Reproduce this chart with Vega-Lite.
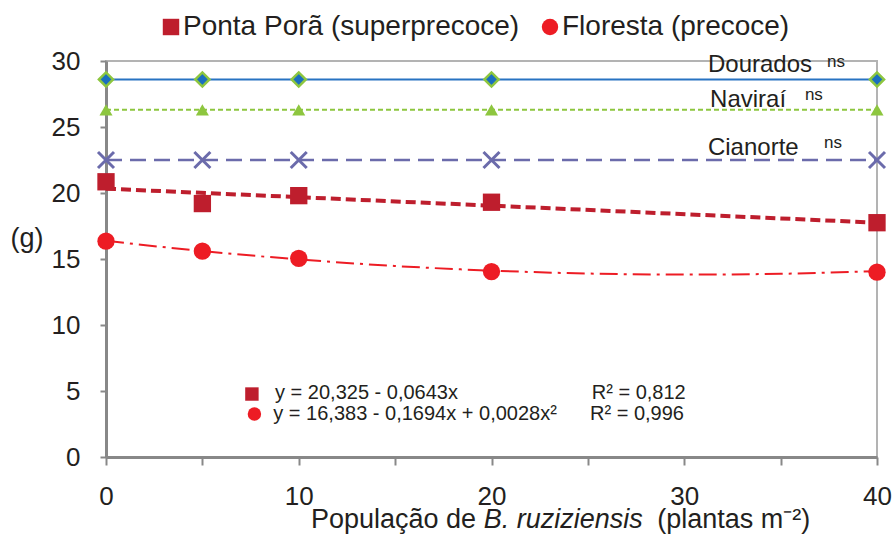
{
  "$schema": "https://vega.github.io/schema/vega-lite/v6.json",
  "width": 771,
  "height": 396,
  "autosize": {"type": "none"},
  "padding": {"left": 106, "top": 61, "right": 15, "bottom": 78},
  "background": "white",
  "config": {
    "view": {"stroke": "#b3b3b3", "strokeWidth": 2},
    "font": "Liberation Sans",
    "text": {"color": "#231f20"}
  },
  "datasets": {
    "pts": [
      {"serie": "Dourados", "x": 0, "y": 28.6},
      {"serie": "Dourados", "x": 5, "y": 28.6},
      {"serie": "Dourados", "x": 10, "y": 28.6},
      {"serie": "Dourados", "x": 20, "y": 28.6},
      {"serie": "Dourados", "x": 40, "y": 28.6},
      {"serie": "Naviraí", "x": 0, "y": 26.3},
      {"serie": "Naviraí", "x": 5, "y": 26.3},
      {"serie": "Naviraí", "x": 10, "y": 26.3},
      {"serie": "Naviraí", "x": 20, "y": 26.3},
      {"serie": "Naviraí", "x": 40, "y": 26.3},
      {"serie": "Cianorte", "x": 0, "y": 22.5},
      {"serie": "Cianorte", "x": 5, "y": 22.5},
      {"serie": "Cianorte", "x": 10, "y": 22.5},
      {"serie": "Cianorte", "x": 20, "y": 22.5},
      {"serie": "Cianorte", "x": 40, "y": 22.5},
      {"serie": "Ponta Porã (superprecoce)", "x": 0, "y": 20.85},
      {"serie": "Ponta Porã (superprecoce)", "x": 5, "y": 19.2},
      {"serie": "Ponta Porã (superprecoce)", "x": 10, "y": 19.8},
      {"serie": "Ponta Porã (superprecoce)", "x": 20, "y": 19.3},
      {"serie": "Ponta Porã (superprecoce)", "x": 40, "y": 17.75},
      {"serie": "Floresta (precoce)", "x": 0, "y": 16.35},
      {"serie": "Floresta (precoce)", "x": 5, "y": 15.6},
      {"serie": "Floresta (precoce)", "x": 10, "y": 15.05},
      {"serie": "Floresta (precoce)", "x": 20, "y": 14.05},
      {"serie": "Floresta (precoce)", "x": 40, "y": 14.0}
    ],
    "fit": [
      {"serie": "Ponta Porã (superprecoce)", "x": 0, "y": 20.33},
      {"serie": "Ponta Porã (superprecoce)", "x": 40, "y": 17.75},
      {"serie": "Floresta (precoce)", "x": 0, "y": 16.38},
      {"serie": "Floresta (precoce)", "x": 5, "y": 15.6},
      {"serie": "Floresta (precoce)", "x": 10, "y": 14.97},
      {"serie": "Floresta (precoce)", "x": 15, "y": 14.47},
      {"serie": "Floresta (precoce)", "x": 20, "y": 14.12},
      {"serie": "Floresta (precoce)", "x": 25, "y": 13.9},
      {"serie": "Floresta (precoce)", "x": 30, "y": 13.82},
      {"serie": "Floresta (precoce)", "x": 35, "y": 13.88},
      {"serie": "Floresta (precoce)", "x": 40, "y": 14.08}
    ],
    "eqmark": [
      {"serie": "Ponta Porã (superprecoce)", "x": 7.57, "y": 4.77},
      {"serie": "Floresta (precoce)", "x": 7.7, "y": 3.26}
    ],
    "ann": [
      {"grupo": "local", "txt": "Dourados", "x": 31.23, "y": 29.17},
      {"grupo": "local", "txt": "Naviraí", "x": 31.34, "y": 26.54},
      {"grupo": "local", "txt": "Cianorte", "x": 31.23, "y": 22.88},
      {"grupo": "ns", "txt": "ns", "x": 37.41, "y": 29.55},
      {"grupo": "ns", "txt": "ns", "x": 36.26, "y": 27.05},
      {"grupo": "ns", "txt": "ns", "x": 37.25, "y": 23.41},
      {"grupo": "eq", "txt": "y = 20,325 - 0,0643x", "x": 8.77, "y": 4.37},
      {"grupo": "eq", "txt": "R² = 0,812", "x": 25.2, "y": 4.37},
      {"grupo": "eq", "txt": "y = 16,383 - 0,1694x + 0,0028x²", "x": 8.68, "y": 2.8},
      {"grupo": "eq", "txt": "R² = 0,996", "x": 25.11, "y": 2.8},
      {"grupo": "t1", "txt": "População de", "x": 19.2, "y": -5.4},
      {"grupo": "t2", "txt": "B. ruziziensis", "x": 19.6, "y": -5.4},
      {"grupo": "t3", "txt": "(plantas  m⁻²)", "x": 28.6, "y": -5.4}
    ]
  },
  "layer": [
    {
      "data": {"name": "pts"},
      "transform": [{"filter": "datum.serie === 'Dourados'"}],
      "mark": {"type": "line", "color": "#2873c2", "strokeWidth": 2},
      "encoding": {
        "x": {
          "field": "x", "type": "quantitative",
          "scale": {"domain": [0, 40], "nice": false, "zero": false},
          "axis": {
            "values": [0, 5, 10, 15, 20, 25, 30, 35, 40],
            "labelExpr": "datum.value % 10 === 0 ? datum.label : ''",
            "title": null, "grid": false,
            "domainColor": "#888888", "domainWidth": 3,
            "tickColor": "#888888", "tickWidth": 2, "tickSize": 8,
            "labelFont": "Liberation Sans", "labelFontSize": 26,
            "labelColor": "#231f20", "labelPadding": 18, "labelFlush": false
          }
        },
        "y": {
          "field": "y", "type": "quantitative",
          "scale": {"domain": [0, 30], "nice": false, "zero": false},
          "axis": {
            "values": [0, 5, 10, 15, 20, 25, 30],
            "title": "(g)", "titleAngle": 0, "titleAlign": "left",
            "titleBaseline": "middle", "titleX": -96, "titleY": 177,
            "titleFont": "Liberation Sans", "titleFontSize": 27,
            "titleFontWeight": "normal", "titleColor": "#231f20",
            "grid": false,
            "domainColor": "#888888", "domainWidth": 3,
            "tickColor": "#888888", "tickWidth": 2, "tickSize": 6,
            "labelFont": "Liberation Sans", "labelFontSize": 26,
            "labelColor": "#231f20", "labelPadding": 20
          }
        }
      }
    },
    {
      "data": {"name": "pts"},
      "transform": [{"filter": "datum.serie === 'Naviraí'"}],
      "mark": {"type": "line", "color": "#8dc63f", "strokeWidth": 2, "strokeDash": [5, 3]},
      "encoding": {"x": {"field": "x", "type": "quantitative"}, "y": {"field": "y", "type": "quantitative"}}
    },
    {
      "data": {"name": "pts"},
      "transform": [{"filter": "datum.serie === 'Cianorte'"}],
      "mark": {"type": "line", "color": "#6b6bab", "strokeWidth": 2.5, "strokeDash": [16, 8]},
      "encoding": {"x": {"field": "x", "type": "quantitative"}, "y": {"field": "y", "type": "quantitative"}}
    },
    {
      "data": {"name": "fit"},
      "transform": [{"filter": "datum.serie === 'Ponta Porã (superprecoce)'"}],
      "mark": {"type": "line", "color": "#be1e2d", "strokeWidth": 4, "strokeDash": [10, 5]},
      "encoding": {"x": {"field": "x", "type": "quantitative"}, "y": {"field": "y", "type": "quantitative"}}
    },
    {
      "data": {"name": "fit"},
      "transform": [{"filter": "datum.serie === 'Floresta (precoce)'"}],
      "mark": {"type": "line", "color": "#ed1c24", "strokeWidth": 2, "strokeDash": [18, 6, 3, 6], "interpolate": "monotone"},
      "encoding": {"x": {"field": "x", "type": "quantitative"}, "y": {"field": "y", "type": "quantitative"}}
    },
    {
      "data": {"name": "pts"},
      "transform": [{"filter": "datum.serie === 'Dourados'"}],
      "mark": {"type": "point", "shape": "diamond", "filled": true, "fill": "#1a6fbf", "stroke": "#8dc63f", "strokeWidth": 2.5, "size": 200, "opacity": 1},
      "encoding": {"x": {"field": "x", "type": "quantitative"}, "y": {"field": "y", "type": "quantitative"}}
    },
    {
      "data": {"name": "pts"},
      "transform": [{"filter": "datum.serie === 'Naviraí'"}],
      "mark": {"type": "point", "shape": "triangle-up", "filled": true, "color": "#8dc63f", "size": 170, "opacity": 1},
      "encoding": {"x": {"field": "x", "type": "quantitative"}, "y": {"field": "y", "type": "quantitative"}}
    },
    {
      "data": {"name": "pts"},
      "transform": [{"filter": "datum.serie === 'Cianorte'"}],
      "mark": {"type": "point", "shape": "M-1,-1L1,1M-1,1L1,-1", "filled": false, "stroke": "#6b6bab", "strokeWidth": 3, "size": 256, "opacity": 1},
      "encoding": {"x": {"field": "x", "type": "quantitative"}, "y": {"field": "y", "type": "quantitative"}}
    },
    {
      "data": {"name": "pts"},
      "transform": [{"filter": "datum.serie === 'Ponta Porã (superprecoce)' || datum.serie === 'Floresta (precoce)'"}],
      "mark": {"type": "point", "filled": true, "size": 300, "opacity": 1},
      "encoding": {
        "x": {"field": "x", "type": "quantitative"},
        "y": {"field": "y", "type": "quantitative"},
        "color": {
          "field": "serie", "type": "nominal",
          "scale": {"domain": ["Ponta Porã (superprecoce)", "Floresta (precoce)"], "range": ["#be1e2d", "#ed1c24"]},
          "legend": {
            "orient": "none", "legendX": 51, "legendY": -48, "direction": "horizontal",
            "title": null, "padding": 0, "labelLimit": 0,
            "labelFont": "Liberation Sans", "labelFontSize": 28, "labelColor": "#231f20",
            "symbolSize": 270, "symbolStrokeWidth": 0, "labelOffset": -2, "columnPadding": 16
          }
        },
        "shape": {
          "field": "serie", "type": "nominal",
          "scale": {"domain": ["Ponta Porã (superprecoce)", "Floresta (precoce)"], "range": ["square", "circle"]},
          "legend": {
            "orient": "none", "legendX": 51, "legendY": -48, "direction": "horizontal",
            "title": null, "padding": 0, "labelLimit": 0,
            "labelFont": "Liberation Sans", "labelFontSize": 28, "labelColor": "#231f20",
            "symbolSize": 270, "symbolStrokeWidth": 0, "labelOffset": -2, "columnPadding": 16
          }
        }
      }
    },
    {
      "data": {"name": "eqmark"},
      "mark": {"type": "point", "filled": true, "size": 180, "opacity": 1},
      "encoding": {
        "x": {"field": "x", "type": "quantitative"},
        "y": {"field": "y", "type": "quantitative"},
        "color": {"field": "serie", "type": "nominal"},
        "shape": {"field": "serie", "type": "nominal"}
      }
    },
    {
      "data": {"name": "ann"},
      "transform": [{"filter": "datum.grupo === 'local'"}],
      "mark": {"type": "text", "align": "left", "baseline": "alphabetic", "fontSize": 24, "font": "Liberation Sans", "color": "#231f20"},
      "encoding": {"x": {"field": "x", "type": "quantitative"}, "y": {"field": "y", "type": "quantitative"}, "text": {"field": "txt"}}
    },
    {
      "data": {"name": "ann"},
      "transform": [{"filter": "datum.grupo === 'ns'"}],
      "mark": {"type": "text", "align": "left", "baseline": "alphabetic", "fontSize": 17, "font": "Liberation Sans", "color": "#231f20"},
      "encoding": {"x": {"field": "x", "type": "quantitative"}, "y": {"field": "y", "type": "quantitative"}, "text": {"field": "txt"}}
    },
    {
      "data": {"name": "ann"},
      "transform": [{"filter": "datum.grupo === 'eq'"}],
      "mark": {"type": "text", "align": "left", "baseline": "alphabetic", "fontSize": 20, "font": "Liberation Sans", "color": "#231f20"},
      "encoding": {"x": {"field": "x", "type": "quantitative"}, "y": {"field": "y", "type": "quantitative"}, "text": {"field": "txt"}}
    },
    {
      "data": {"name": "ann"},
      "transform": [{"filter": "datum.grupo === 't1'"}],
      "mark": {"type": "text", "align": "right", "baseline": "alphabetic", "fontSize": 27, "font": "Liberation Sans", "color": "#231f20"},
      "encoding": {"x": {"field": "x", "type": "quantitative"}, "y": {"field": "y", "type": "quantitative"}, "text": {"field": "txt"}}
    },
    {
      "data": {"name": "ann"},
      "transform": [{"filter": "datum.grupo === 't2'"}],
      "mark": {"type": "text", "align": "left", "baseline": "alphabetic", "fontSize": 27, "fontStyle": "italic", "font": "Liberation Sans", "color": "#231f20"},
      "encoding": {"x": {"field": "x", "type": "quantitative"}, "y": {"field": "y", "type": "quantitative"}, "text": {"field": "txt"}}
    },
    {
      "data": {"name": "ann"},
      "transform": [{"filter": "datum.grupo === 't3'"}],
      "mark": {"type": "text", "align": "left", "baseline": "alphabetic", "fontSize": 27, "font": "Liberation Sans", "color": "#231f20"},
      "encoding": {"x": {"field": "x", "type": "quantitative"}, "y": {"field": "y", "type": "quantitative"}, "text": {"field": "txt"}}
    }
  ]
}
